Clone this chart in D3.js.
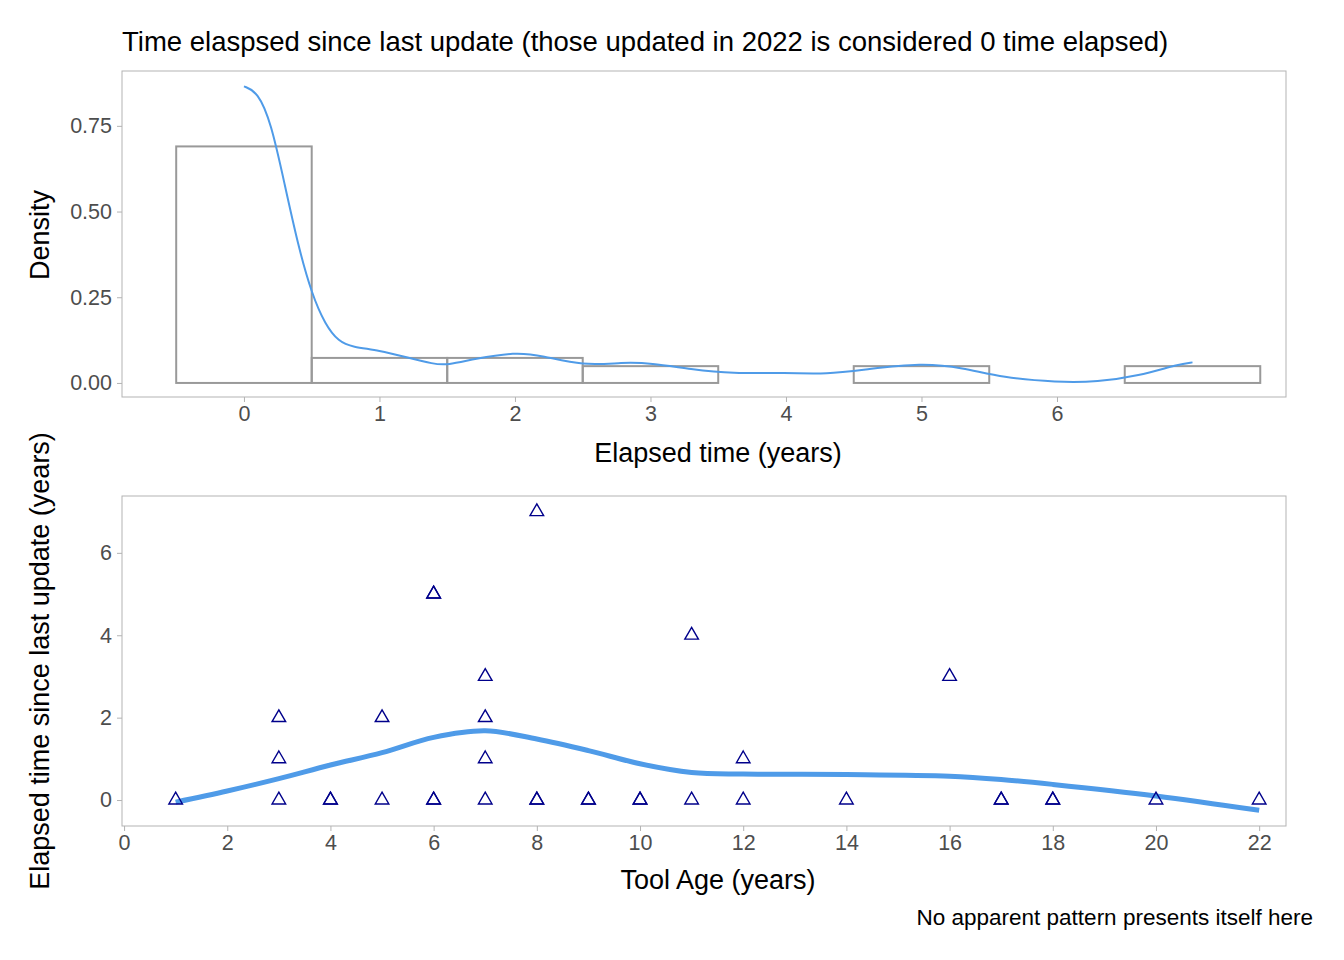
<!DOCTYPE html>
<html lang="en">
<head>
<meta charset="UTF-8">
<script src="https://d3js.org/d3.v7.min.js"></script>
<style>
  body { margin: 0; background: #fff; }
  svg { font-family: "Liberation Sans", Arial, sans-serif; }
</style>
</head>
<body>
<svg id="chart" width="1344" height="960"></svg>
<script>
// histogram bins (center, density)
const binCenters = [0, 1, 2, 3, 4, 5, 6, 7];
const binDensity = [0.69, 0.073, 0.073, 0.049, 0, 0.049, 0, 0.049];
// density curve
const densX = [0,0.1,0.2,0.3,0.4,0.5,0.6,0.7,0.8,1,1.2,1.4,1.5,1.7,2,2.2,2.5,2.8,3,3.3,3.6,4,4.3,4.6,5,5.3,5.6,6,6.3,6.6,6.9,7];
const densY = [0.865,0.85,0.76,0.58,0.4,0.26,0.17,0.12,0.105,0.095,0.075,0.055,0.052,0.07,0.09,0.08,0.05,0.06,0.058,0.04,0.027,0.03,0.025,0.04,0.058,0.045,0.015,0.002,0.003,0.02,0.055,0.06];
// scatter: tool age vs elapsed
const toolAge = [1,3,3,3,4,4,5,5,6,6,6,6,7,7,7,7,8,8,8,9,9,10,10,11,11,12,12,14,16,17,17,18,18,20,22];
const elapsed = [0,0,1,2,0,0,0,2,0,0,5,5,0,1,2,3,0,0,7,0,0,0,0,0,4,0,1,0,3,0,0,0,0,0,0];
// smoother
const smoothX = [1,2,3,4,5,6,7,8,9,10,11,12,14,16,17,18,20,22];
const smoothY = [-0.05,0.22,0.52,0.85,1.15,1.52,1.68,1.48,1.2,0.88,0.67,0.63,0.62,0.58,0.5,0.38,0.1,-0.25];

const svg = d3.select('#chart');
const tickCol = '#4d4d4d', frameCol = '#b3b3b3', blue = '#4f9be8';

svg.append('text').attr('x', 122).attr('y', 51).attr('font-size', 27.5).text('Time elaspsed since last update (those updated in 2022 is considered 0 time elapsed)');

// top panel
const tL = 122, tR = 1286, tT = 71, tB = 397;
const x1 = d3.scaleLinear().domain([-0.9, 7.69]).range([tL, tR]);
const y1 = d3.scaleLinear().domain([-0.041, 0.91]).range([tB, tT]);
svg.append('rect').attr('x', tL).attr('y', tT).attr('width', tR - tL).attr('height', tB - tT).attr('fill', 'none').attr('stroke', frameCol);

svg.selectAll('.bar').data(binCenters).join('rect')
  .attr('x', d => x1(d - 0.5)).attr('width', d => x1(d + 0.5) - x1(d - 0.5))
  .attr('y', (d, i) => y1(binDensity[i])).attr('height', (d, i) => y1(0) - y1(binDensity[i]))
  .attr('fill', 'none').attr('stroke', '#999').attr('stroke-width', 2);

svg.append('path').datum(densX.map((d, i) => [d, densY[i]]))
  .attr('d', d3.line().x(d => x1(d[0])).y(d => y1(d[1])).curve(d3.curveBasis))
  .attr('fill', 'none').attr('stroke', blue).attr('stroke-width', 2);

const ax1 = svg.append('g').attr('transform', `translate(0,${tB})`)
  .call(d3.axisBottom(x1).tickValues([0,1,2,3,4,5,6]).tickSize(5).tickPadding(4));
const ay1 = svg.append('g').attr('transform', `translate(${tL},0)`)
  .call(d3.axisLeft(y1).tickValues([0,0.25,0.5,0.75]).tickFormat(d3.format('.2f')).tickSize(5).tickPadding(5));

svg.append('text').attr('x', 718).attr('y', 462).attr('text-anchor', 'middle').attr('font-size', 27).text('Elapsed time (years)');
svg.append('text').attr('transform', 'translate(49,235) rotate(-90)').attr('text-anchor', 'middle').attr('font-size', 27).text('Density');

// bottom panel
const bL = 122, bR = 1286, bT = 496, bB = 826;
const x2 = d3.scaleLinear().domain([-0.04, 22.52]).range([bL, bR]);
const y2 = d3.scaleLinear().domain([-0.63, 7.38]).range([bB, bT]);
svg.append('rect').attr('x', bL).attr('y', bT).attr('width', bR - bL).attr('height', bB - bT).attr('fill', 'none').attr('stroke', frameCol);

svg.append('path').datum(smoothX.map((d, i) => [d, smoothY[i]]))
  .attr('d', d3.line().x(d => x2(d[0])).y(d => y2(d[1])).curve(d3.curveCatmullRom))
  .attr('fill', 'none').attr('stroke', blue).attr('stroke-width', 5);

const tri = d3.symbol().type(d3.symbolTriangle).size(80);
svg.selectAll('.pt').data(toolAge).join('path')
  .attr('d', tri)
  .attr('transform', (d, i) => `translate(${x2(d)},${y2(elapsed[i])})`)
  .attr('fill', 'none').attr('stroke', '#00008b').attr('stroke-width', 1.4);

const ax2 = svg.append('g').attr('transform', `translate(0,${bB})`)
  .call(d3.axisBottom(x2).tickValues(d3.range(0, 23, 2)).tickSize(5).tickPadding(4));
const ay2 = svg.append('g').attr('transform', `translate(${bL},0)`)
  .call(d3.axisLeft(y2).tickValues([0,2,4,6]).tickSize(5).tickPadding(5));

svg.append('text').attr('x', 718).attr('y', 889).attr('text-anchor', 'middle').attr('font-size', 27).text('Tool Age (years)');
svg.append('text').attr('transform', 'translate(49,661) rotate(-90)').attr('text-anchor', 'middle').attr('font-size', 27).text('Elapsed time since last update (years)');
svg.append('text').attr('x', 1313).attr('y', 925).attr('text-anchor', 'end').attr('font-size', 22.5).text('No apparent pattern presents itself here');

[ax1, ay1, ax2, ay2].forEach(g => {
  g.select('.domain').remove();
  g.selectAll('line').attr('stroke', frameCol);
  g.selectAll('text').attr('fill', tickCol).attr('font-size', 21.5).attr('font-family', '"Liberation Sans", Arial, sans-serif');
});
</script>
</body>
</html>
